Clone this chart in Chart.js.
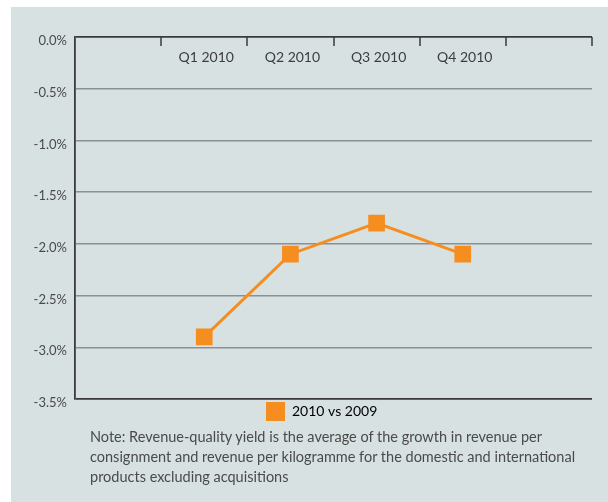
<!DOCTYPE html>
<html>
<head>
<meta charset="utf-8">
<script src="https://cdn.jsdelivr.net/npm/chart.js@4"></script>
<style>
  html, body { margin: 0; padding: 0; background: #fff; }
  #panel {
    position: absolute; left: 11px; top: 7px;
    width: 597px; height: 495px; background: #d7e1e2;
  }
  #wrap { position: absolute; left: 0; top: 0; width: 608px; height: 502px; }
  #note {
    position: absolute; left: 90px; top: 427px; width: 512px;
    font: 14.5px Lato, sans-serif; line-height: 20px; color: #4a4a4a;
  }
</style>
</head>
<body>
<div id="panel"></div>
<div id="wrap"><canvas id="myChart" width="608" height="502"></canvas></div>
<div id="note">Note: Revenue-quality yield is the average of the growth in revenue per<br>consignment and revenue per kilogramme for the domestic and international<br>products excluding acquisitions</div>

<script>
// quarters, with an empty slot at each end of the axis
const categories = ['', 'Q1 2010', 'Q2 2010', 'Q3 2010', 'Q4 2010', ''];
const yieldChange = [null, -2.9, -2.1, -1.8, -2.1, null];
const tickValues = [0, -0.5, -1.0, -1.5, -2.0, -2.5, -3.0, -3.5];
const tickLabels = ['0.0%', '-0.5%', '-1.0%', '-1.5%', '-2.0%', '-2.5%', '-3.0%', '-3.5%'];

const axisDark = '#3a3a3a';
const gridGrey = '#8d9091';
const orange = '#f68d1f';

// quarter labels and little tick marks hanging under the top axis,
// plus pushing the legend item a bit left of centre
const topAxis = {
    id: 'topAxis',
    afterLayout(chart) {
        chart.legend.left = 264;
        chart.legend.right = 608;
        chart.legend.top += 1;
    },
    afterDatasetsDraw(chart) {
        const ctx = chart.ctx;
        const x = chart.scales.x;
        const area = chart.chartArea;
        ctx.save();
        ctx.strokeStyle = axisDark;
        ctx.lineWidth = 1.5;
        for (let i = 1; i < categories.length; i++) {
            const bx = Math.round((x.getPixelForValue(i - 1) + x.getPixelForValue(i)) / 2);
            ctx.beginPath();
            ctx.moveTo(bx, area.top);
            ctx.lineTo(bx, area.top + 9);
            ctx.stroke();
        }
        ctx.beginPath();
        ctx.moveTo(area.right, area.top);
        ctx.lineTo(area.right, area.top + 9);
        ctx.stroke();

        ctx.fillStyle = '#3d3d3d';
        ctx.font = '14px Lato, sans-serif';
        ctx.textAlign = 'center';
        ctx.textBaseline = 'middle';
        categories.forEach((c, i) => {
            if (c) ctx.fillText(c, x.getPixelForValue(i) + 2, area.top + 20);
        });
        ctx.restore();
    }
};

const ctx = document.getElementById('myChart').getContext('2d');
const chart = new Chart(ctx, {
    type: 'line',
    data: {
        labels: categories,
        datasets: [{
            label: '2010 vs 2009',
            data: yieldChange,
            borderColor: orange,
            backgroundColor: orange,
            borderWidth: 3,
            pointStyle: 'rect',
            pointRadius: 11.8,
            pointHoverRadius: 11.8,
            pointBorderWidth: 0,
            tension: 0
        }]
    },
    options: {
        responsive: false,
        animation: false,
        events: [],
        layout: { padding: { left: 0, right: 16, top: 37, bottom: 72 } },
        scales: {
            x: {
                display: false,
                offset: true
            },
            y: {
                min: -3.5,
                max: 0,
                afterBuildTicks(scale) {
                    scale.ticks = tickValues.map(v => ({ value: v }));
                },
                afterFit(scale) {
                    scale.width = 75;
                },
                grid: {
                    drawTicks: false,
                    color: c => (c.tick && (c.tick.value === 0 || c.tick.value === -3.5)) ? axisDark : gridGrey,
                    lineWidth: c => (c.tick && (c.tick.value === 0 || c.tick.value === -3.5)) ? 1.8 : 1.5
                },
                border: { color: axisDark, width: 1.8 },
                ticks: {
                    padding: 8,
                    labelOffset: 4,
                    color: '#4a4a4a',
                    font: { family: 'Lato', size: 13 },
                    callback: v => tickLabels[tickValues.indexOf(Math.round(v * 10) / 10)]
                }
            }
        },
        plugins: {
            legend: {
                position: 'bottom',
                align: 'start',
                labels: {
                    boxWidth: 19,
                    boxHeight: 19,
                    padding: 2,
                    color: '#3d3d3d',
                    font: { family: 'Lato', size: 14 },
                    generateLabels: c => [{
                        text: c.data.datasets[0].label,
                        fillStyle: orange,
                        strokeStyle: orange,
                        lineWidth: 0,
                        datasetIndex: 0
                    }]
                }
            },
            tooltip: { enabled: false }
        }
    },
    plugins: [topAxis]
});
</script>
</body>
</html>
